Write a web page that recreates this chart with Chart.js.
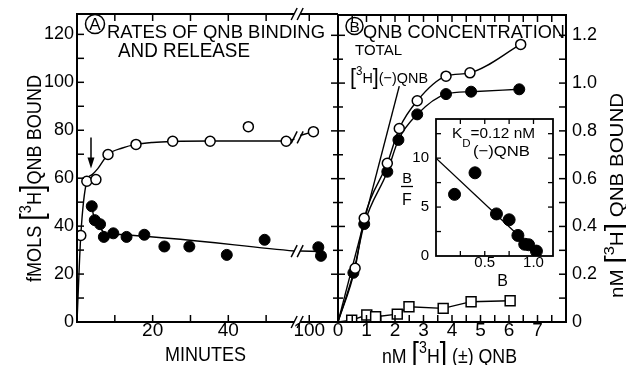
<!DOCTYPE html>
<html>
<head>
<meta charset="utf-8">
<title>QNB binding</title>
<script src="https://cdn.jsdelivr.net/npm/chart.js@4.4.1/dist/chart.umd.min.js"></script>
<style>
  html, body { margin: 0; padding: 0; background: #fff; }
  #wrap { position: relative; width: 626px; height: 365px; overflow: hidden; }
  #wrap canvas { position: absolute; left: 0; top: 0; }
</style>
</head>
<body>
<div id="wrap">
  <canvas id="rates" width="626" height="365"></canvas>
  <canvas id="conc" width="626" height="365"></canvas>
  <canvas id="scat" width="626" height="365"></canvas>
</div>
<script>
// ---------- Panel A: rates of QNB binding and release (minutes, fmol bound) ----------
const bindMinutes = [1.0, 2.6, 5.0, 8.2, 15.6, 25.3, 35.2, 45.3, 55.3, 101.1];
const bindFmol    = [36.1, 58.7, 59.4, 69.9, 74.1, 75.4, 75.4, 81.5, 75.4, 79.4];
const releaseMinutes = [3.9, 4.7, 6.1, 7.1, 9.6, 13.1, 17.8, 23.1, 29.7, 39.6, 49.6, 102.4, 103.1];
const releaseFmol    = [48.3, 42.5, 40.8, 35.5, 37.0, 35.5, 36.4, 31.5, 31.5, 28.0, 34.3, 31.2, 27.6];
// smooth curves through the time course, before and after the axis break
const bindCurveMinutes = [0, 1.0, 2.6, 4.0, 5.5, 8.2, 12, 15.6, 20, 25.3, 35.2, 45.3, 55.3, 57.5];
const bindCurveFmol    = [0, 36.1, 58.7, 61.5, 64.0, 69.9, 72.6, 74.1, 74.9, 75.3, 75.5, 75.5, 75.5, 76.3];
const bindLateMinutes  = [97.6, 101.1];
const bindLateFmol     = [77.8, 79.4];
const releaseCurveMinutes = [3.8, 4.6, 6.0, 7.5, 10, 57.5];
const releaseCurveFmol    = [49.0, 43.0, 39.5, 37.0, 36.6, 29.6];
const releaseLateMinutes  = [97.6, 103.1];
const releaseLateFmol     = [29.6, 29.4];
const minuteTicks = [20, 40, 100];
const fmolTicks = [0, 20, 40, 60, 80, 100, 120];

// ---------- Panel B: bound vs. nM [3H](±)QNB ----------
const totalNM       = [0.60, 0.92, 1.73, 2.15, 2.78, 3.79, 4.63, 6.41];
const totalBound    = [0.225, 0.434, 0.664, 0.810, 0.926, 1.029, 1.043, 1.162];
const specificNM    = [0.54, 0.92, 1.73, 2.12, 2.78, 3.79, 4.67, 6.36];
const specificBound = [0.206, 0.410, 0.629, 0.762, 0.869, 0.954, 0.964, 0.974];
const nonspecNM     = [0.48, 1.01, 1.32, 2.08, 2.49, 3.69, 4.67, 6.04];
const nonspecBound  = [0.008, 0.029, 0.022, 0.033, 0.064, 0.057, 0.085, 0.089];
const addedNM       = [0, 2.15];
const addedBound    = [0, 0.987];
const concTicks  = [0, 1, 2, 3, 4, 5, 6, 7];
const boundTicks = [0, 0.2, 0.4, 0.6, 0.8, 1.0, 1.2];

// ---------- Scatchard inset ----------
const scatB  = [0.19, 0.40, 0.62, 0.75, 0.84, 0.91, 0.95, 1.03];
const scatBF = [6.3, 8.5, 4.3, 3.7, 2.1, 1.2, 1.15, 0.5];
const scatFitB  = [0, 1.07];
const scatFitBF = [10, 0];
const scatXTicks = [0.5, 1.0];
const scatYTicks = [0, 5, 10];

// ---------- helpers ----------
const FAMILY = '"Liberation Sans", "DejaVu Sans", Arial, sans-serif';
Chart.defaults.font.family = FAMILY;
Chart.defaults.color = '#000';

// the time axis is broken: late minutes are shifted left so 100 min sits just past the break
const BREAK_AT = 58.2;
const SHIFT = 38.6;
const toAxis = m => (m > 80 ? m - SHIFT : m);
const pts = (xs, ys, f = v => v) => xs.map((x, i) => ({ x: f(x), y: ys[i] }));

const openPts = (data, r = 5) => ({
  data, pointStyle: 'circle', pointRadius: r, pointBackgroundColor: '#fff',
  pointBorderColor: '#000', pointBorderWidth: 1.5, showLine: false, order: 0
});
const filledPts = (data, r = 5.5) => ({
  data, pointStyle: 'circle', pointRadius: r, pointBackgroundColor: '#000',
  pointBorderColor: '#000', pointBorderWidth: 1, showLine: false, order: 1
});
const squarePts = data => ({
  data, pointStyle: 'rect', pointRadius: 7, pointBackgroundColor: '#fff',
  pointBorderColor: '#000', pointBorderWidth: 1.5, showLine: false, order: 0
});
const curve = (data, mode = 'monotone') => ({
  data, showLine: true, pointRadius: 0, borderColor: '#000', borderWidth: 1.4,
  cubicInterpolationMode: mode, tension: 0, order: 5
});

function seg(ctx, x1, y1, x2, y2) {
  ctx.beginPath(); ctx.moveTo(x1, y1); ctx.lineTo(x2, y2); ctx.stroke();
}

// rich text: parts are [text, kind]; n normal, s superscript, u subscript, b tall bracket
const CAP = 0.72;
function richText(ctx, parts, x, y, width, cap, opts = {}) {
  const base = cap / CAP;
  const spec = {
    n: { k: 1, dy: 0 },
    s: { k: 0.8, dy: -0.7 * cap },
    u: { k: 0.75, dy: 0.8 * cap },
    b: { k: 1.5, dy: 0.05 * cap }
  };
  const fonts = parts.map(([, kind]) => (base * spec[kind].k).toFixed(2) + 'px ' + FAMILY);
  let total = 0;
  const widths = parts.map(([t], i) => { ctx.font = fonts[i]; const w = ctx.measureText(t).width; total += w; return w; });
  const sx = width ? width / total : 1;
  ctx.save();
  ctx.translate(x, y);
  if (opts.angle) ctx.rotate(opts.angle);
  ctx.scale(sx, 1);
  ctx.fillStyle = '#000';
  ctx.textAlign = 'left';
  ctx.textBaseline = 'alphabetic';
  let cx = opts.align === 'center' ? -total / 2 : 0;
  parts.forEach(([t, kind], i) => {
    ctx.font = fonts[i];
    ctx.fillText(t, cx, spec[kind].dy);
    cx += widths[i];
  });
  ctx.restore();
}

function circledLetter(ctx, letter, cx, cy, r) {
  ctx.save();
  ctx.lineWidth = 1.5;
  ctx.beginPath(); ctx.arc(cx, cy, r, 0, Math.PI * 2); ctx.stroke();
  const cap = r * 1.3;
  richText(ctx, [[letter, 'n']], cx, cy + cap / 2, 0, cap, { align: 'center' });
  ctx.restore();
}

function breakMark(ctx, x, y, gap) {
  for (const dx of [-gap, gap]) seg(ctx, x + dx - 3, y + 6, x + dx + 3, y - 6);
}

const baseOptions = {
  responsive: false, animation: false, devicePixelRatio: 1, events: [],
  plugins: { legend: { display: false }, tooltip: { enabled: false } }
};
const hiddenGrid = { display: false, drawTicks: false };
const fixedTicks = values => scale => { scale.ticks = values.map(v => ({ value: v })); };

// ---------- Panel A chart ----------
const panelADecor = {
  id: 'panelADecor',
  afterDraw(chart) {
    const { ctx, chartArea: a, scales: { x, y } } = chart;
    ctx.save();
    ctx.strokeStyle = '#000'; ctx.fillStyle = '#000';
    const xb = x.getPixelForValue(BREAK_AT);
    const gap = 3;
    ctx.lineWidth = 2;
    seg(ctx, a.left, a.top - 1, a.left, a.bottom + 1);
    seg(ctx, a.left, a.bottom, xb - gap, a.bottom); seg(ctx, xb + gap, a.bottom, a.right, a.bottom);
    seg(ctx, a.left, a.top, xb - gap, a.top); seg(ctx, xb + gap, a.top, a.right, a.top);
    ctx.lineWidth = 1.5;
    for (let v = 10; v <= 120; v += 10) {
      const py = y.getPixelForValue(v);
      seg(ctx, a.left, py, a.left + 7, py);
    }
    for (const m of [10, 20, 30, 40, 50, 100]) {
      const px = x.getPixelForValue(toAxis(m));
      seg(ctx, px, a.bottom, px, a.bottom - 7);
      seg(ctx, px, a.top, px, a.top + 7);
    }
    breakMark(ctx, xb, a.bottom, gap);
    breakMark(ctx, xb, a.top, gap);
    breakMark(ctx, xb, y.getPixelForValue(77.0), gap);
    breakMark(ctx, xb, y.getPixelForValue(29.6), gap);

    // arrow marking the start of release
    const ax = x.getPixelForValue(3.7), ay1 = y.getPixelForValue(77), ay2 = y.getPixelForValue(64);
    seg(ctx, ax, ay1, ax, ay2 - 6);
    ctx.beginPath(); ctx.moveTo(ax, ay2); ctx.lineTo(ax - 3.5, ay2 - 11); ctx.lineTo(ax + 3.5, ay2 - 11); ctx.closePath(); ctx.fill();

    circledLetter(ctx, 'A', 95, 24, 9.5);
    richText(ctx, [['RATES OF QNB BINDING', 'n']], 107, 38, 218, 13);
    richText(ctx, [['AND RELEASE', 'n']], 118, 57, 132, 14);
    richText(ctx, [['fMOLS ', 'n'], ['[', 'b'], ['3', 's'], ['H', 'n'], [']', 'b'], ['QNB BOUND', 'n']],
      41, 282, 207, 15, { angle: -Math.PI / 2 });
    richText(ctx, [['MINUTES', 'n']], 165, 361, 81, 15);
    ctx.restore();
  }
};

new Chart(document.getElementById('rates'), {
  type: 'scatter',
  data: {
    datasets: [
      openPts(pts(bindMinutes, bindFmol, toAxis)),
      filledPts(pts(releaseMinutes, releaseFmol, toAxis)),
      curve(pts(bindCurveMinutes, bindCurveFmol, toAxis)),
      curve(pts(bindLateMinutes, bindLateFmol, toAxis)),
      curve(pts(releaseCurveMinutes, releaseCurveFmol, toAxis)),
      curve(pts(releaseLateMinutes, releaseLateFmol, toAxis))
    ]
  },
  options: {
    ...baseOptions,
    layout: { autoPadding: false, padding: { left: 37, right: 288, top: 14, bottom: 0 } },
    scales: {
      x: {
        type: 'linear', min: 0, max: 69,
        afterBuildTicks: fixedTicks(minuteTicks.map(toAxis)),
        afterFit: s => { s.height = 43; },
        grid: hiddenGrid, border: { display: false },
        ticks: { autoSkip: false, maxRotation: 0, padding: -1, font: { size: 19, lineHeight: 1 },
                 callback: (v, i) => String(minuteTicks[i]) }
      },
      y: {
        min: 0, max: 128.5,
        afterBuildTicks: fixedTicks(fmolTicks),
        afterFit: s => { s.width = 40; },
        grid: hiddenGrid, border: { display: false },
        ticks: { padding: 3, font: { size: 18, lineHeight: 1 }, callback: (v, i) => String(fmolTicks[i]) }
      }
    }
  },
  plugins: [panelADecor]
});

// ---------- Panel B chart ----------
const panelBDecor = {
  id: 'panelBDecor',
  afterDraw(chart) {
    const { ctx, chartArea: a, scales: { x, y } } = chart;
    ctx.save();
    ctx.strokeStyle = '#000'; ctx.fillStyle = '#000';
    ctx.lineWidth = 2;
    ctx.strokeRect(a.left, a.top, a.right - a.left, a.bottom - a.top);
    ctx.lineWidth = 1.5;
    for (let i = 1; i <= 12; i++) {
      const py = y.getPixelForValue(i / 10);
      const half = i % 2 === 0 ? 7 : 5;
      seg(ctx, a.left - half, py, a.left + half, py);
      seg(ctx, a.right, py, a.right - 7, py);
    }
    for (let i = 1; i <= 15; i++) {
      const px = x.getPixelForValue(i / 2);
      seg(ctx, px, a.bottom, px, a.bottom - 7);
      seg(ctx, px, a.top, px, a.top + 7);
    }
    circledLetter(ctx, 'B', 354.5, 26, 8.5);
    richText(ctx, [['QNB CONCENTRATION', 'n']], 363, 38, 202, 13);
    richText(ctx, [['TOTAL', 'n']], 355, 55, 47, 10.5);
    richText(ctx, [['[', 'b'], ['3', 's'], ['H', 'n'], [']', 'b'], ['(\u2212)QNB', 'n']], 350, 83, 78, 11);
    richText(ctx, [['nM ', 'n'], ['[', 'b'], ['3', 's'], ['H', 'n'], [']', 'b'], [' (\u00b1) QNB', 'n']], 382, 363, 135, 15);
    richText(ctx, [['nM ', 'n'], ['[', 'b'], ['3', 's'], ['H', 'n'], [']', 'b'], [' QNB BOUND', 'n']],
      623, 298, 205, 13, { angle: -Math.PI / 2 });
    ctx.restore();
  }
};

new Chart(document.getElementById('conc'), {
  type: 'scatter',
  data: {
    datasets: [
      openPts(pts(totalNM, totalBound)),
      filledPts(pts(specificNM, specificBound)),
      squarePts(pts(nonspecNM, nonspecBound)),
      curve([{ x: 0, y: 0 }, ...pts(totalNM, totalBound)]),
      curve([{ x: 0, y: 0 }, ...pts(specificNM, specificBound)]),
      curve([{ x: 0, y: 0 }, ...pts(nonspecNM, nonspecBound)], 'default'),
      curve(pts(addedNM, addedBound), 'default')
    ]
  },
  options: {
    ...baseOptions,
    layout: { autoPadding: false, padding: { left: 338, right: 0, top: 14, bottom: 0 } },
    scales: {
      x: {
        type: 'linear', min: 0, max: 8,
        afterBuildTicks: fixedTicks(concTicks),
        afterFit: s => { s.height = 43; },
        grid: hiddenGrid, border: { display: false },
        ticks: { autoSkip: false, maxRotation: 0, padding: -1, font: { size: 19, lineHeight: 1 },
                 callback: (v, i) => String(concTicks[i]) }
      },
      y: {
        position: 'right', min: 0, max: 1.285,
        afterBuildTicks: fixedTicks(boundTicks),
        afterFit: s => { s.width = 60; },
        grid: hiddenGrid, border: { display: false },
        ticks: { padding: 6, font: { size: 18, lineHeight: 1 },
                 callback: (v, i) => (boundTicks[i] === 0 ? '0' : boundTicks[i].toFixed(1)) }
      }
    }
  },
  plugins: [panelBDecor]
});

// ---------- Scatchard inset ----------
const insetDecor = {
  id: 'insetDecor',
  beforeDatasetsDraw(chart) {
    const { ctx, chartArea: a } = chart;
    ctx.save(); ctx.fillStyle = '#fff';
    ctx.fillRect(a.left, a.top, a.right - a.left, a.bottom - a.top);
    ctx.restore();
  },
  afterDraw(chart) {
    const { ctx, chartArea: a, scales: { x, y } } = chart;
    ctx.save();
    ctx.strokeStyle = '#000'; ctx.fillStyle = '#000';
    ctx.lineWidth = 1.8;
    ctx.strokeRect(a.left, a.top, a.right - a.left, a.bottom - a.top);
    ctx.lineWidth = 1.3;
    for (let v = 2.5; v < 14; v += 2.5) {
      const py = y.getPixelForValue(v);
      seg(ctx, a.left, py, a.left + 5, py);
      seg(ctx, a.right, py, a.right - 5, py);
    }
    for (let v = 0.25; v < 1.2; v += 0.25) {
      const px = x.getPixelForValue(v);
      seg(ctx, px, a.bottom, px, a.bottom - 5);
      seg(ctx, px, a.top, px, a.top + 5);
    }
    richText(ctx, [['K', 'n'], ['D', 'u'], ['=0.12 nM', 'n']], 452, 138, 83, 11);
    richText(ctx, [['(\u2212)QNB', 'n']], 473, 156, 57, 11);
    richText(ctx, [['B', 'n']], 407, 183, 0, 10.5, { align: 'center' });
    ctx.lineWidth = 1.3;
    seg(ctx, 401, 186.5, 413, 186.5);
    richText(ctx, [['F', 'n']], 407, 205, 0, 11.5, { align: 'center' });
    richText(ctx, [['B', 'n']], 502.5, 286, 0, 11.5, { align: 'center' });
    ctx.restore();
  }
};

new Chart(document.getElementById('scat'), {
  type: 'scatter',
  data: {
    datasets: [
      filledPts(pts(scatB, scatBF), 6),
      curve(pts(scatFitB, scatFitBF), 'default')
    ]
  },
  options: {
    ...baseOptions,
    layout: { autoPadding: false, padding: { left: 406, right: 73, top: 119, bottom: 79 } },
    scales: {
      x: {
        type: 'linear', min: 0, max: 1.2,
        afterBuildTicks: fixedTicks(scatXTicks),
        afterFit: s => { s.height = 30; },
        grid: hiddenGrid, border: { display: false },
        ticks: { autoSkip: false, maxRotation: 0, padding: -1, font: { size: 15, lineHeight: 1 },
                 callback: (v, i) => scatXTicks[i].toFixed(1) }
      },
      y: {
        min: 0, max: 14,
        afterBuildTicks: fixedTicks(scatYTicks),
        afterFit: s => { s.width = 30; },
        grid: hiddenGrid, border: { display: false },
        ticks: { padding: 7, font: { size: 15, lineHeight: 1 }, callback: (v, i) => String(scatYTicks[i]) }
      }
    }
  },
  plugins: [insetDecor]
});
</script>
</body>
</html>
